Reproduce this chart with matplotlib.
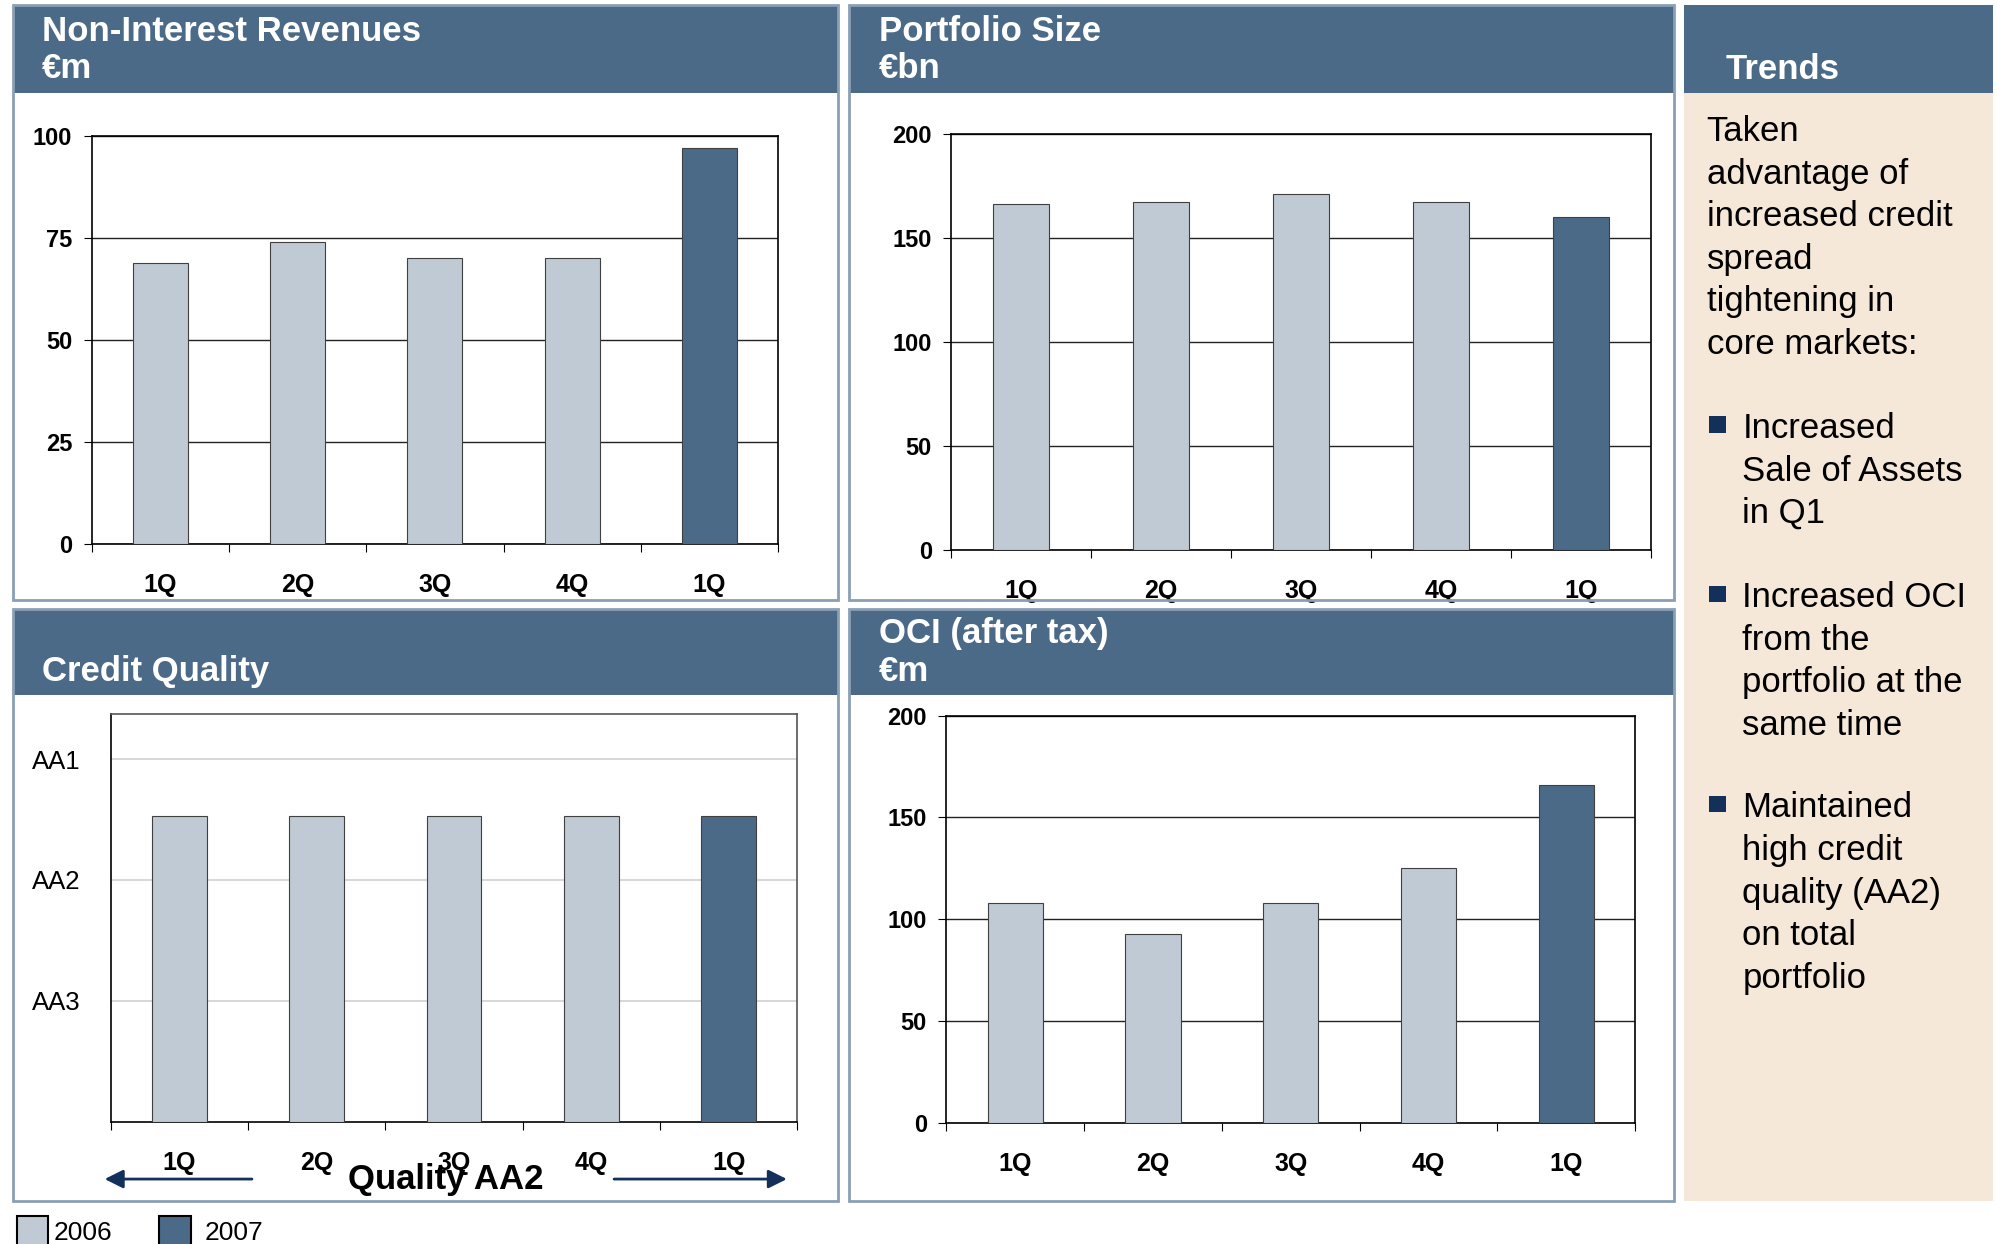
import matplotlib
matplotlib.use('Agg')
import matplotlib.pyplot as plt
import numpy as np
from matplotlib.patches import Rectangle, FancyArrowPatch

plt.rcParams['font.family'] = ['Liberation Sans', 'DejaVu Sans']

# data
quarters = ['1Q', '2Q', '3Q', '4Q', '1Q']
years = ['2006', '2006', '2006', '2006', '2007']
non_interest = [69, 74, 70, 70, 97]          # EUR m
portfolio = [166, 167, 171, 167, 160]        # EUR bn
oci = [108, 93, 108, 125, 166]               # EUR m, after tax
grade_names = ['AA3', 'AA2', 'AA1']
grade_levels = [1, 2, 3]
credit = [2.53, 2.53, 2.53, 2.53, 2.53]      # rating level (AA3=1 .. AA1=3)
legend_years = ['2006', '2007']

trend_intro = ['Taken', 'advantage of', 'increased credit', 'spread',
               'tightening in', 'core markets:']
trend_bullets = [['Increased', 'Sale of Assets', 'in Q1'],
                 ['Increased OCI', 'from the', 'portfolio at the', 'same time'],
                 ['Maintained', 'high credit', 'quality (AA2)', 'on total', 'portfolio']]

HEADER = '#4B6A88'
LIGHT = '#C0CAD4'
DARK = '#4A6A88'
BEIGE = '#F5E8D8'
NAVY = '#12305A'
BORDER = '#8A9FB6'
year_col = {'2006': LIGHT, '2007': DARK}

fig = plt.figure(figsize=(19.97, 12.44), dpi=100)

# layout helpers, measured on a 1568x977 copy
def fx(x):
    return x / 1568.0

def fy(y):
    return 1 - y / 977.0

def box(x0, y0, x1, y1, **kw):
    fig.add_artist(Rectangle((fx(x0), fy(y1)), fx(x1) - fx(x0), fy(y0) - fy(y1),
                             transform=fig.transFigure, **kw))

def panel(x0, y0, x1, y1, hy):
    box(x0, y0, x1, y1, facecolor='white', edgecolor='none', zorder=-2)
    box(x0, y0, x1, hy, facecolor=HEADER, edgecolor='none', zorder=-1)
    box(x0, y0, x1, y1, facecolor='none', edgecolor=BORDER, lw=2, zorder=10)

panel(10, 4, 658, 471, 73)
panel(667, 4, 1314, 471, 73)
panel(10, 478, 658, 943, 546)
panel(667, 478, 1314, 943, 546)
box(1322, 73, 1565, 943, facecolor=BEIGE, edgecolor='none', zorder=-2)
box(1322, 4, 1565, 73, facecolor=HEADER, edgecolor='none', zorder=-1)

hdr = dict(color='white', fontsize=25, fontweight='bold', va='baseline')
fig.text(fx(33), fy(32), 'Non-Interest Revenues', **hdr)
fig.text(fx(33), fy(61), '€m', **hdr)
fig.text(fx(690), fy(32), 'Portfolio Size', **hdr)
fig.text(fx(690), fy(61), '€bn', **hdr)
fig.text(fx(33), fy(535), 'Credit Quality', **hdr)
fig.text(fx(690), fy(505), 'OCI (after tax)', **hdr)
fig.text(fx(690), fy(535), '€m', **hdr)
fig.text(fx(1355), fy(62), 'Trends', **hdr)


def bar_axes(l, t, r, b, values, ylim, yticks):
    ax = fig.add_axes([fx(l), fy(b), fx(r) - fx(l), fy(t) - fy(b)])
    x = np.arange(len(values))
    ax.bar(x, values, width=0.4, color=[year_col[y] for y in years],
           edgecolor='#404040', linewidth=0.8, zorder=3)
    ax.set_xlim(-0.5, len(values) - 0.5)
    ax.set_ylim(*ylim)
    ax.set_yticks(yticks)
    ax.set_xticks(np.arange(-0.5, len(values)))
    ax.set_xticklabels([])
    ax.set_xticks(x, minor=True)
    ax.set_xticklabels(quarters, minor=True, fontsize=18, fontweight='bold')
    ax.tick_params(axis='x', which='major', length=6, direction='out')
    ax.tick_params(axis='x', which='minor', length=0, pad=21)
    for s in ax.spines.values():
        s.set_linewidth(1.2)
    return ax


def numeric(ax):
    ax.yaxis.grid(True, color='#222222', lw=1, zorder=0)
    ax.set_axisbelow(True)
    ax.tick_params(axis='y', length=6, pad=8, labelsize=17)
    for lab in ax.get_yticklabels():
        lab.set_fontweight('bold')


ax1 = bar_axes(72, 107, 611, 427, non_interest, (0, 100), [0, 25, 50, 75, 100])
numeric(ax1)
ax2 = bar_axes(747, 105, 1296, 432, portfolio, (0, 200), [0, 50, 100, 150, 200])
numeric(ax2)
ax4 = bar_axes(743, 562, 1284, 882, oci, (0, 200), [0, 50, 100, 150, 200])
numeric(ax4)

ax3 = bar_axes(87, 561, 626, 881, credit, (0, 3.37), grade_levels)
ax3.set_yticklabels(grade_names, fontsize=18.5, ha='left')
ax3.tick_params(axis='y', length=0, pad=57)
ax3.yaxis.grid(True, color='#D4D4D4', lw=1.3, zorder=0)
ax3.set_axisbelow(True)
ax3.spines['top'].set_color('#555555')
ax3.spines['right'].set_color('#555555')

# credit quality footer
fig.text(fx(350), fy(926), 'Quality AA2', fontsize=25, fontweight='bold',
         ha='center', va='center')
for xs, xe in [(200, 80), (480, 620)]:
    fig.add_artist(FancyArrowPatch((fx(xs), fy(926)), (fx(xe), fy(926)),
                                   transform=fig.transFigure, arrowstyle='-|>',
                                   mutation_scale=28, color=NAVY, lw=2, zorder=11))

# legend
for (sx, tx), yr in zip([(13, 42), (125, 161)], legend_years):
    box(sx, 955, sx + 25, 980, facecolor=year_col[yr], edgecolor='black', lw=1.5, zorder=5)
    fig.text(fx(tx), fy(974), yr, fontsize=19, va='baseline')

# trends text
step = 33.4
txt = dict(fontsize=25, va='baseline', color='black')
for i, line in enumerate(trend_intro):
    fig.text(fx(1340), fy(111 + i * step), line, **txt)
for y0, lines in zip([344, 477, 642], trend_bullets):
    box(1342, y0 - 17, 1355, y0 - 4, facecolor=NAVY, edgecolor='none', zorder=5)
    for i, line in enumerate(lines):
        fig.text(fx(1368), fy(y0 + i * step), line, **txt)

fig.savefig('out.png', dpi=100)
